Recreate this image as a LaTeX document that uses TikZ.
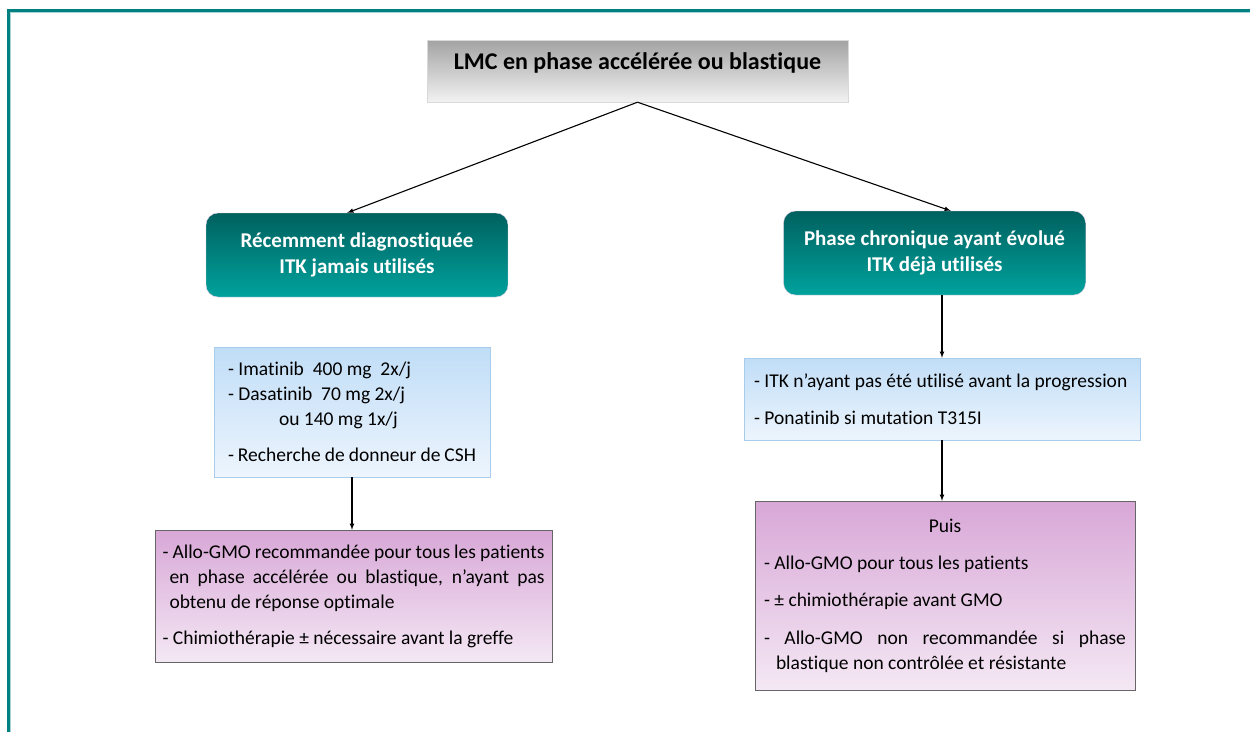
\documentclass[tikz,border=0pt]{standalone}
\usepackage{fontspec}
\setmainfont{Carlito}[Ligatures=NoCommon]
\usetikzlibrary{positioning}
\definecolor{frameteal}{HTML}{008080}
\definecolor{titletop}{HTML}{A3A3A3}
\definecolor{titlebot}{HTML}{F2F2F2}
\definecolor{tealtop}{HTML}{00615F}
\definecolor{tealbot}{HTML}{00A29D}
\definecolor{bluetop}{HTML}{C0DDF7}
\definecolor{bluebot}{HTML}{EDF5FD}
\definecolor{blueline}{HTML}{A8CCEC}
\definecolor{mauvetop}{HTML}{D8A7D7}
\definecolor{mauvebot}{HTML}{F4E8F4}
\begin{document}
\begin{tikzpicture}[x=1pt,y=-1pt,
  titlebox/.style={draw=gray!30,top color=titletop,bottom color=titlebot,minimum width=421pt,minimum height=62pt,text depth=20pt,font=\bfseries\fontsize{24}{28}\selectfont},
  headbox/.style={draw=violet!20,rounded corners=12pt,top color=tealtop,bottom color=tealbot,text=white,minimum width=302pt,minimum height=84pt,align=center,font=\bfseries\fontsize{21}{26}\selectfont},
  drugbox/.style={draw=blueline,top color=bluetop,bottom color=bluebot,align=left,font=\fontsize{19.5}{25}\selectfont,execute at begin node={\spaceskip=0pt\xspaceskip=0pt\relax}},
  gmobox/.style={draw=gray!80!black,top color=mauvetop,bottom color=mauvebot,align=justify,font=\fontsize{19.5}{25}\selectfont},
  link/.style={-latex,line width=1.1pt}]
\useasboundingbox (0,0) rectangle (1250,731);
\clip (0,0) rectangle (1250,731);
\draw [frameteal, line width=3pt] (8,10) rectangle (1262,745);
\draw [frameteal!35, line width=.8pt] (10.5,12.5) rectangle (1262,745);
\node [titlebox] (lmc) at (637.5,71) {LMC en phase accélérée ou blastique};
\node [headbox] (newdiag) at (357,255) {Récemment diagnostiquée\\ITK jamais utilisés};
\node [headbox] (chronic) at (934.5,253) {Phase chronique ayant évolué\\ITK déjà utilisés};
\node [drugbox, inner xsep=14pt, minimum width=276pt, minimum height=130pt, text width=248pt] (newdrugs) at (352,412)
  {- Imatinib\ \ 400 mg\ \ 2x/j\\- Dasatinib\ \ 70 mg 2x/j\\\hspace*{51pt}ou 140 mg 1x/j\\[11pt]- Recherche de donneur de CSH\\[-6pt]};
\node [drugbox, inner xsep=10pt, minimum width=396pt, minimum height=82pt, text width=376pt] (chronicdrugs) at (942,399)
  {- ITK n’ayant pas été utilisé avant la progression\\[12pt]- Ponatinib si mutation T315I};
\node [gmobox, inner xsep=7.5pt, minimum width=397pt, minimum height=132pt, text width=382pt] (newgmo) at (353.5,596)
  {\hangindent=7pt\hangafter=1 - Allo-GMO recommandée pour tous les patients\linebreak en phase accélérée ou blastique, n’ayant pas\linebreak obtenu de réponse optimale\par\vspace{11pt}- Chimiothérapie ± nécessaire avant la greffe\par};
\node [gmobox, inner xsep=9pt, minimum width=380pt, minimum height=189pt, text width=362pt] (chronicgmo) at (945,595.5)
  {\hspace*{\fill}Puis\hspace*{\fill}\par\vspace{12pt}- Allo-GMO pour tous les patients\par\vspace{12pt}- ± chimiothérapie avant GMO\par\vspace{13pt}- \hangindent=12pt\hangafter=1 Allo-GMO non recommandée si phase\linebreak blastique non contrôlée et résistante\par\vspace{10pt}};
\draw [link] (lmc.south) -- (newdiag.103);
\draw [link] (lmc.south) -- (chronic.69);
\draw [link] (newdrugs.south) -- (newdrugs.south |- newgmo.north);
\draw [link] (chronic.south -| chronicdrugs.north) -- (chronicdrugs.north);
\draw [link] (chronicdrugs.south) -- (chronicdrugs.south |- chronicgmo.north);
\end{tikzpicture}
\end{document}
